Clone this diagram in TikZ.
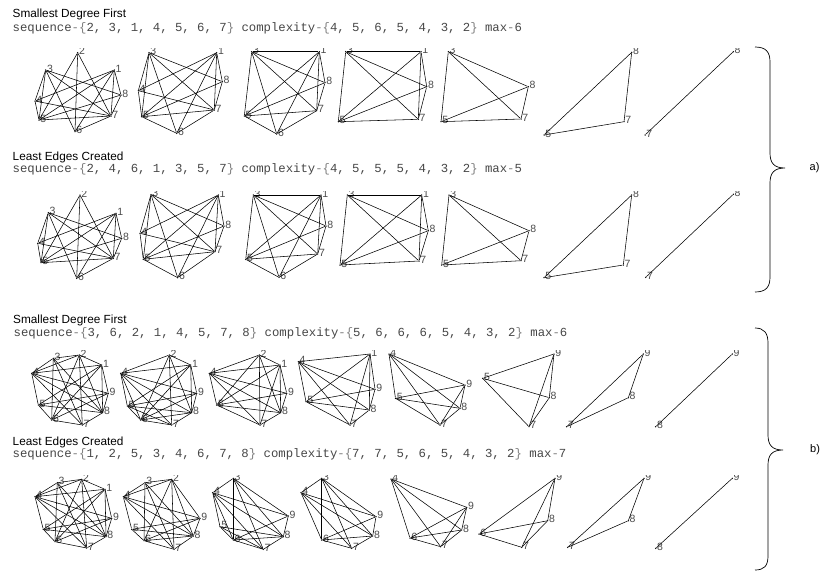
\documentclass[tikz,border=0pt]{standalone}
\usepackage{fontspec}
\setmainfont{Liberation Sans}
\setmonofont{Liberation Mono}
\tikzset{
  vtx/.style={circle,fill=black,inner sep=0pt,minimum size=1.5pt},
  lab/.style={anchor=base west,inner sep=0pt,text=black!70,font=\fontsize{10.5}{10.5}\selectfont},
  edge/.style={line width=0.55pt,black},
  title/.style={anchor=base west,inner sep=0pt,font=\fontsize{11.8}{12}\selectfont},
  seq/.style={anchor=base west,inner sep=0pt,text=black!72,font=\ttfamily\fontsize{12.3}{12.3}\selectfont},
  bracepath/.style={line width=0.7pt},
  side/.style={anchor=west,inner sep=0pt,font=\fontsize{11}{11}\selectfont}
}
\newcommand{\mkg}[3]{%
  \foreach \l/\x/\y in {#2} {\node[vtx] (#1v\l) at (\x,\y) {}; \node[lab] (#1l\l) at ({\x+1.2},{\y+2.2}) {\l};}
  \foreach \p/\q in {#3} {\draw[edge] (#1v\p) -- (#1v\q);}
}
\newcommand{\seqlb}{\textcolor{gray}{\{}}
\newcommand{\seqrb}{\textcolor{gray}{\}}}
\newcommand{\seqhy}{\textcolor{gray}{-}}
\begin{document}
\begin{tikzpicture}[x=1pt,y=-1pt]
\useasboundingbox (0,0) rectangle (822,571);
\fill[white] (0,0) rectangle (822,571);

% headings
\node[title] (t1) at (12.5,17) {Smallest Degree First};
\node[seq] (s1) at (12.5,31.5) {sequence\seqhy\seqlb 2, 3, 1, 4, 5, 6, 7\seqrb{} complexity\seqhy\seqlb 4, 5, 6, 5, 4, 3, 2\seqrb{} max\seqhy 6};
\node[title] (t2) at (12.5,160) {Least Edges Created};
\node[seq] (s2) at (12.5,172) {sequence\seqhy\seqlb 2, 4, 6, 1, 3, 5, 7\seqrb{} complexity\seqhy\seqlb 4, 5, 5, 5, 4, 3, 2\seqrb{} max\seqhy 5};
\node[title] (t3) at (13,323.3) {Smallest Degree First};
\node[seq] (s3) at (13.5,336.5) {sequence\seqhy\seqlb 3, 6, 2, 1, 4, 5, 7, 8\seqrb{} complexity\seqhy\seqlb 5, 6, 6, 6, 5, 4, 3, 2\seqrb{} max\seqhy 6};
\node[title] (t4) at (12.5,445.3) {Least Edges Created};
\node[seq] (s4) at (12.5,457.5) {sequence\seqhy\seqlb 1, 2, 5, 3, 4, 6, 7, 8\seqrb{} complexity\seqhy\seqlb 7, 7, 5, 6, 5, 4, 3, 2\seqrb{} max\seqhy 7};

% ---------- row a1
\begin{scope}
\clip (0,48.3) rectangle (752,150);
\mkg{a1g1}{2/77.7/52.7,3/45.7/70,1/114.3/70,8/121/95,4/35/101,5/39/120,7/111/116,6/75/131.7}
  {2/5,2/6,2/7,3/4,3/5,3/6,3/7,3/8,1/4,1/5,1/6,1/7,1/8,4/5,4/7,5/7,5/8,6/7,7/8}
\mkg{a1g2}{3/149/52.7,1/216.7/52.7,8/222.3/81.7,4/138.3/90.7,7/214.3/110,5/141.7/116.7,6/176.7/133.3}
  {3/4,3/5,3/6,3/7,3/8,1/4,1/5,1/6,1/7,1/8,4/5,4/7,5/6,5/7,5/8,6/7,7/8}
\mkg{a1g3}{3/251.7/51.7,1/319.3/51.7,8/325/82.7,7/316.7/110.7,5/244.3/116,6/276.7/134}
  {3/1,3/5,3/6,3/7,3/8,1/5,1/6,1/7,1/8,5/6,5/7,5/8,6/7,7/8}
\mkg{a1g4}{3/345.7/51.7,1/421/51.7,8/426.7/86.7,7/418.3/119.3,5/338.3/121.7}
  {3/1,3/8,3/7,3/5,1/8,1/7,1/5,8/7,8/5,7/5}
\mkg{a1g5}{3/448.3/51.7,8/528.3/86.7,7/521/119,5/441/121.7}
  {3/8,3/7,3/5,8/7,8/5,7/5}
\mkg{a1g6}{8/631.7/52.3,7/624/121.7,5/544/135}
  {8/7,8/5,7/5}
\mkg{a1g7}{8/733.3/51.7,7/645/135}
  {8/7}
\end{scope}

% ---------- row a2
\begin{scope}
\clip (0,191.2) rectangle (752,295);
\mkg{a2g1}{2/80/195,3/48.3/212.7,1/116/213.3,8/121.7/238.3,4/37.7/243.3,5/41/262.7,7/113.3/258.3,6/76.7/278.3}
  {2/5,2/6,2/7,3/4,3/5,3/6,3/7,3/8,1/4,1/5,1/6,1/7,1/8,4/5,4/7,5/7,5/8,6/7,7/8}
\mkg{a2g2}{3/151/194.5,1/218.3/195,8/224/226,4/140/233.3,7/215/251.7,5/143.3/259.3,6/177.7/277.7}
  {3/4,3/5,3/6,3/7,3/8,1/4,1/5,1/6,1/7,1/8,4/5,4/7,5/6,5/7,5/8,6/7,7/8}
\mkg{a2g3}{3/253.3/195,1/321/195,8/326/226,7/317.7/254,5/245.7/259.3,6/279/277.3}
  {3/1,3/5,3/6,3/7,3/8,1/5,1/6,1/7,1/8,5/6,5/7,5/8,6/7,7/8}
\mkg{a2g4}{3/347.3/195,1/421.7/195,8/428.3/230.7,7/419/261,5/340/265}
  {3/1,3/8,3/7,3/5,1/8,1/7,1/5,8/7,8/5,7/5}
\mkg{a2g5}{3/449/195,8/529/230.7,7/521/260.7,5/441.7/265}
  {3/8,3/7,3/5,8/7,8/5,7/5}
\mkg{a2g6}{8/631.7/195,7/623.3/265,5/544/277.7}
  {8/7,8/5,7/5}
\mkg{a2g7}{8/733.3/194.3,7/645.7/277.3}
  {8/7}
\end{scope}

% ---------- row b1
\begin{scope}
\clip (0,350.5) rectangle (752,440);
\mkg{b1g1}{3/53.3/358.3,2/79.3/355,1/101.7/365,4/31.7/373.3,9/108.3/393.3,5/38.3/405,8/102.7/412.7,6/51.7/420,7/82.3/425}
  {3/2,2/1,1/9,9/8,8/7,7/6,6/5,5/4,4/3,4/2,4/1,4/9,4/8,4/7,3/8,3/6,3/7,2/6,2/7,2/8,1/6,1/5,1/8,9/5,9/6,8/5}
\mkg{b1g2}{2/169.3/355,1/190.7/365,4/120.7/373.3,9/196.7/393.3,5/127.3/406,8/191.7/412.7,6/140.7/420,7/171.7/425}
  {2/1,1/9,9/8,8/7,7/6,6/5,5/4,4/2,4/1,4/9,4/8,4/7,4/6,2/6,2/7,2/8,1/6,1/5,1/8,9/5,9/6,8/5,8/6,5/7}
\mkg{b1g3}{2/259.3/355,1/280/365,4/209.3/373.3,9/286.7/393.3,5/216.7/405,8/280.7/412.7,7/260/425}
  {2/1,1/9,9/8,8/7,7/5,5/4,4/2,4/1,4/9,4/8,2/5,2/7,2/8,1/5,1/7,1/8,9/5,8/5,4/7}
\mkg{b1g4}{1/370/354,4/298.3/361.7,9/375/389.3,5/306/401.7,8/369.3/410,7/350/425}
  {4/1,4/5,4/7,4/8,4/9,1/5,1/7,1/8,1/9,9/5,9/8,5/8,5/7,8/7}
\mkg{b1g5}{4/389/354,5/395.5/398.3,9/465/385,8/460/408.3,7/440/425}
  {4/5,4/9,4/8,4/7,5/9,5/8,5/7,9/8,9/7,8/7}
\mkg{b1g6}{5/482.7/378.3,9/554/354,8/549.3/397.7,7/529/426.7}
  {5/9,5/8,5/7,9/8,9/7,8/7}
\mkg{b1g7}{9/643.3/354,8/628.3/397.7,7/566.7/426.7}
  {9/8,9/7,8/7}
\mkg{b1g8}{9/732.3/354,8/655.7/426.7}
  {9/8}
\end{scope}

% ---------- row b2
\begin{scope}
\clip (0,475) rectangle (752,565);
\mkg{b2g1}{3/57.3/482.7,2/81.7/479.3,1/105/489.3,4/35/496.7,9/111.7/518.3,5/43.3/529.3,8/106/536.7,6/55/541.7,7/86.7/548}
  {3/2,2/1,1/9,9/8,8/7,7/6,6/5,5/4,4/3,4/2,4/1,4/9,4/8,4/7,3/8,3/6,3/7,2/6,2/7,2/8,1/6,1/5,1/8,9/5,9/6,8/5}
\mkg{b2g2}{3/145/482.7,2/171.7/479.3,4/123.3/496.7,9/200/518.3,5/131.7/529.3,8/193.3/536,6/144/540.7,7/174/549.3}
  {3/2,3/4,2/9,9/8,8/7,7/6,6/5,5/4,4/2,4/9,4/8,3/8,3/6,3/7,2/6,2/7,2/8,9/5,9/6,8/5,8/6,4/7}
\mkg{b2g3}{3/233.3/478.3,4/212.7/492.7,9/288.3/516,5/220/526.7,8/283.3/536.7,6/233.3/540,7/263.3/549.3}
  {3/4,3/9,3/8,3/7,3/6,4/9,4/8,4/7,4/5,4/6,9/8,9/6,8/7,8/6,8/5,7/6,6/5,5/7}
\mkg{b2g4}{3/321.7/478.3,4/301/492.7,9/376/516.7,8/372.7/536,6/321.7/540,7/351.7/548.3}
  {3/4,3/9,3/8,3/7,3/6,4/9,4/8,4/6,4/7,9/8,9/6,8/6,8/7,7/6}
\mkg{b2g5}{4/391/479,6/410/538,7/440.7/546.7,8/461.7/530,9/466.7/507.3}
  {4/9,4/8,4/7,4/6,6/9,6/8,6/7,9/8,9/7,8/7}
\mkg{b2g6}{9/555/478.3,8/547.7/520.7,7/521.7/547.3,6/479/534}
  {6/9,6/8,6/7,9/8,9/7,8/7}
\mkg{b2g7}{9/644/478.3,8/628.3/520.7,7/567.7/547.3}
  {9/8,9/7,8/7}
\mkg{b2g8}{9/732.3/478.3,8/655.7/548.3}
  {9/8}
\end{scope}

% braces
\draw[bracepath] (755,47) .. controls (766,47) and (770,52) .. (770,62) -- (770,153)
  .. controls (770,163) and (774,168) .. (785,168)
  .. controls (774,168) and (770,173) .. (770,183) -- (770,277)
  .. controls (770,287) and (766,292) .. (755,292);
\node[side] (la) at (809.5,168) {a)};
\draw[bracepath] (755,328) .. controls (764,328) and (768,333) .. (768,343) -- (768,435)
  .. controls (768,445) and (772,450) .. (783,450)
  .. controls (772,450) and (768,455) .. (768,465) -- (768,556)
  .. controls (768,566) and (764,570) .. (755,570);
\node[side] (lb) at (810,450) {b)};
\end{tikzpicture}
\end{document}
